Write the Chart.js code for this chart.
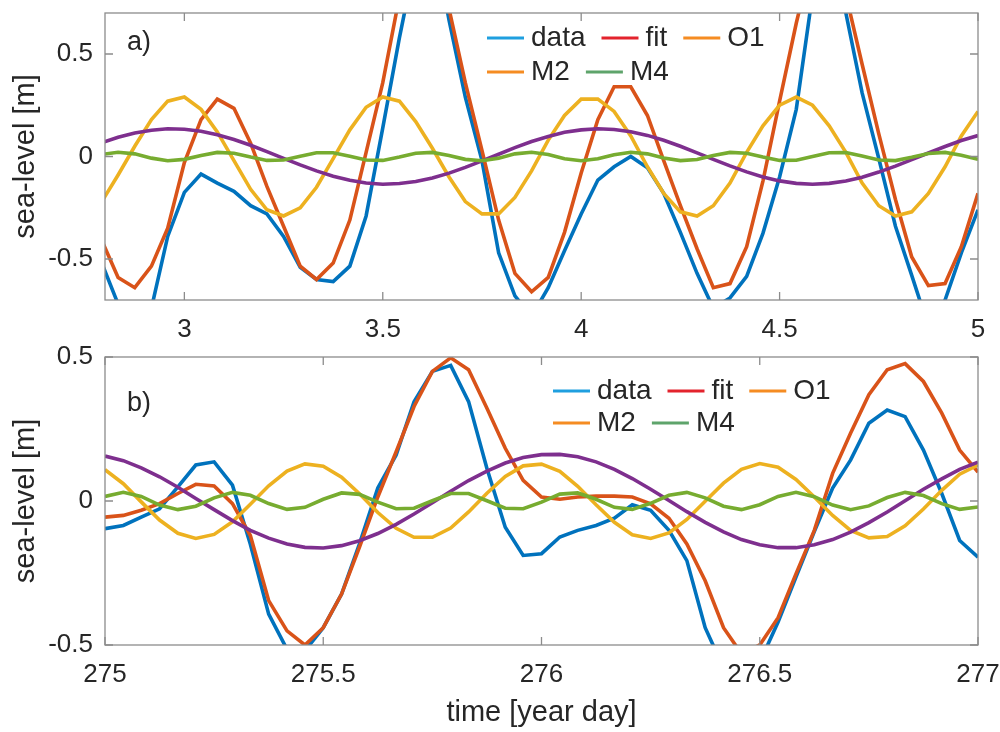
<!DOCTYPE html>
<html>
<head>
<meta charset="utf-8">
<script src="https://cdn.jsdelivr.net/npm/chart.js@4.4.1/dist/chart.umd.min.js"></script>
<style>
  html, body { margin: 0; padding: 0; background: #fff; }
  #boxA { position: absolute; left: 0; top: 0; }
  #boxB { position: absolute; left: 0; top: 345px; }
</style>
</head>
<body>
<div id="boxA"><canvas id="chartA" width="1000" height="345"></canvas></div>
<div id="boxB"><canvas id="chartB" width="1000" height="387"></canvas></div>
<script>
// hourly samples, panel a (days 2.8 - 5)
const timeA = [2.792, 2.833, 2.875, 2.917, 2.958, 3.000, 3.042, 3.083, 3.125, 3.167,
  3.208, 3.250, 3.292, 3.333, 3.375, 3.417, 3.458, 3.500, 3.542, 3.583,
  3.625, 3.667, 3.708, 3.750, 3.792, 3.833, 3.875, 3.917, 3.958, 4.000,
  4.042, 4.083, 4.125, 4.167, 4.208, 4.250, 4.292, 4.333, 4.375, 4.417,
  4.458, 4.500, 4.542, 4.583, 4.625, 4.667, 4.708, 4.750, 4.792, 4.833,
  4.875, 4.917, 4.958, 5.000];
const dataA = [-0.52, -0.72, -0.82, -0.74, -0.39, -0.175, -0.086, -0.13, -0.17, -0.24,
  -0.28, -0.39, -0.54, -0.60, -0.61, -0.535, -0.29, 0.14, 0.58, 0.97,
  1.1, 0.665, 0.29, -0.02, -0.47, -0.68, -0.78, -0.64, -0.46, -0.28,
  -0.115, -0.05, 0.0, -0.055, -0.18, -0.37, -0.57, -0.74, -0.69, -0.585,
  -0.375, -0.10, 0.23, 0.79, 1.0, 0.70, 0.31, -0.01, -0.34, -0.58,
  -0.83, -0.70, -0.47, -0.26];
const fitA = [-0.41, -0.59, -0.64, -0.535, -0.35, -0.03, 0.18, 0.28, 0.235, 0.065,
  -0.146, -0.34, -0.535, -0.60, -0.52, -0.31, 0.02, 0.36, 0.78, 1.05,
  1.08, 0.72, 0.36, 0.03, -0.31, -0.57, -0.66, -0.59, -0.37, -0.08,
  0.18, 0.34, 0.34, 0.20, -0.02, -0.24, -0.45, -0.64, -0.62, -0.44,
  -0.12, 0.27, 0.65, 0.98, 1.05, 0.79, 0.45, 0.11, -0.21, -0.49,
  -0.63, -0.62, -0.44, -0.18];
const o1A = [-0.22, -0.09, 0.05, 0.18, 0.27, 0.29, 0.23, 0.12, -0.02, -0.16,
  -0.26, -0.29, -0.25, -0.15, -0.01, 0.13, 0.24, 0.29, 0.27, 0.17,
  0.04, -0.10, -0.22, -0.28, -0.28, -0.20, -0.07, 0.08, 0.20, 0.28,
  0.28, 0.22, 0.10, -0.05, -0.18, -0.27, -0.29, -0.24, -0.13, 0.02,
  0.15, 0.25, 0.29, 0.25, 0.15, 0.02, -0.13, -0.24, -0.29, -0.27,
  -0.18, -0.05, 0.10, 0.22];
const m2A = [0.068, 0.094, 0.115, 0.128, 0.135, 0.133, 0.123, 0.106, 0.083, 0.055,
  0.024, -0.009, -0.041, -0.070, -0.096, -0.116, -0.129, -0.135, -0.132, -0.122,
  -0.105, -0.081, -0.053, -0.021, 0.011, 0.043, 0.073, 0.098, 0.118, 0.130,
  0.135, 0.132, 0.121, 0.103, 0.079, 0.050, 0.018, -0.014, -0.046, -0.075,
  -0.100, -0.119, -0.131, -0.135, -0.131, -0.120, -0.101, -0.076, -0.047, -0.015,
  0.017, 0.049, 0.078, 0.102];
const m4A = [0.010, 0.021, 0.013, -0.008, -0.021, -0.014, 0.005, 0.020, 0.016, -0.003,
  -0.019, -0.017, 0.001, 0.018, 0.018, 0.001, -0.017, -0.019, -0.003, 0.016,
  0.020, 0.005, -0.014, -0.021, -0.008, 0.013, 0.021, 0.010, -0.011, -0.021,
  -0.011, 0.009, 0.021, 0.013, -0.007, -0.020, -0.015, 0.005, 0.020, 0.016,
  -0.003, -0.019, -0.018, 0.000, 0.018, 0.019, 0.002, -0.017, -0.020, -0.004,
  0.015, 0.020, 0.006, -0.014];

// hourly samples, panel b (year day 275 - 277)
const timeB = [275.000, 275.042, 275.083, 275.125, 275.167, 275.208, 275.250, 275.292, 275.333, 275.375,
  275.417, 275.458, 275.500, 275.542, 275.583, 275.625, 275.667, 275.708, 275.750, 275.792,
  275.833, 275.875, 275.917, 275.958, 276.000, 276.042, 276.083, 276.125, 276.167, 276.208,
  276.250, 276.292, 276.333, 276.375, 276.417, 276.458, 276.500, 276.542, 276.583, 276.625,
  276.667, 276.708, 276.750, 276.792, 276.833, 276.875, 276.917, 276.958, 277.000];
const dataB = [-0.096, -0.085, -0.056, -0.027, 0.049, 0.125, 0.136, 0.055, -0.15, -0.393,
  -0.515, -0.52, -0.44, -0.323, -0.149, 0.045, 0.16, 0.345, 0.45, 0.471,
  0.345, 0.113, -0.091, -0.189, -0.183, -0.125, -0.102, -0.085, -0.06, -0.013,
  -0.032, -0.102, -0.207, -0.44, -0.58, -0.62, -0.56, -0.42, -0.264, -0.106,
  0.045, 0.142, 0.27, 0.316, 0.293, 0.177, 0.026, -0.137, -0.195];
const fitB = [-0.056, -0.05, -0.032, -0.009, 0.026, 0.058, 0.052, -0.009, -0.12, -0.346,
  -0.451, -0.50, -0.44, -0.323, -0.16, 0.014, 0.171, 0.328, 0.45, 0.497,
  0.456, 0.322, 0.183, 0.072, 0.014, 0.006, 0.014, 0.017, 0.017, 0.014,
  -0.01, -0.06, -0.149, -0.277, -0.44, -0.53, -0.50, -0.405, -0.253, -0.102,
  0.096, 0.235, 0.369, 0.456, 0.477, 0.415, 0.305, 0.177, 0.10];
const o1B = [0.109, 0.060, -0.003, -0.066, -0.112, -0.130, -0.116, -0.072, -0.011, 0.053,
  0.104, 0.129, 0.121, 0.083, 0.025, -0.040, -0.095, -0.126, -0.126, -0.094,
  -0.038, 0.027, 0.085, 0.122, 0.128, 0.103, 0.051, -0.013, -0.074, -0.117,
  -0.130, -0.111, -0.064, -0.001, 0.062, 0.110, 0.130, 0.117, 0.075, 0.014,
  -0.050, -0.102, -0.128, -0.123, -0.086, -0.028, 0.037, 0.093, 0.125];
const m2B = [0.156, 0.140, 0.115, 0.084, 0.048, 0.009, -0.030, -0.068, -0.102, -0.129,
  -0.149, -0.161, -0.163, -0.155, -0.138, -0.113, -0.081, -0.045, -0.006, 0.034,
  0.071, 0.104, 0.132, 0.151, 0.161, 0.162, 0.154, 0.136, 0.110, 0.078,
  0.041, 0.002, -0.037, -0.074, -0.107, -0.134, -0.152, -0.162, -0.162, -0.152,
  -0.134, -0.108, -0.075, -0.038, 0.001, 0.041, 0.077, 0.110, 0.135];
const m4B = [0.016, 0.030, 0.016, -0.014, -0.030, -0.018, 0.011, 0.030, 0.020, -0.009,
  -0.029, -0.022, 0.006, 0.028, 0.023, -0.004, -0.027, -0.025, 0.001, 0.026,
  0.026, 0.001, -0.025, -0.027, -0.004, 0.024, 0.028, 0.006, -0.022, -0.029,
  -0.008, 0.020, 0.030, 0.011, -0.018, -0.030, -0.013, 0.016, 0.030, 0.015,
  -0.014, -0.030, -0.017, 0.012, 0.030, 0.019, -0.009, -0.029, -0.021];

const xTicksA = [3, 3.5, 4, 4.5, 5];
const xTicksB = [275, 275.5, 276, 276.5, 277];
const yTicks = [-0.5, 0, 0.5];

const seriesLabels = ['data', 'fit', 'O1', 'M2', 'M4'];
const lineColors = ['#0072BD', '#D95319', '#EDB120', '#7E2F8E', '#77AC30'];
const legendColors = ['#1f9fdf', '#e3232d', '#f58c22', '#f58c22', '#5ea46b'];

const FONT = '"Liberation Sans", Arial, Helvetica, sans-serif';
const TEXT = '#262626';
const AXIS = '#8c8c8c';
Chart.defaults.font.family = FONT;
Chart.defaults.color = TEXT;

// box, inward ticks, panel tag and the legend
const framePlugin = {
  id: 'frame',
  afterDatasetsDraw(chart, args, opts) {
    const ctx = chart.ctx, a = chart.chartArea;
    const x = chart.scales.x, y = chart.scales.y;
    ctx.save();
    ctx.strokeStyle = AXIS;
    ctx.lineWidth = 1.3;
    ctx.strokeRect(a.left, a.top, a.right - a.left, a.bottom - a.top);
    ctx.beginPath();
    x.ticks.forEach(t => {
      const p = x.getPixelForValue(t.value);
      ctx.moveTo(p, a.bottom); ctx.lineTo(p, a.bottom - 8);
      ctx.moveTo(p, a.top); ctx.lineTo(p, a.top + 8);
    });
    y.ticks.forEach(t => {
      const p = y.getPixelForValue(t.value);
      ctx.moveTo(a.left, p); ctx.lineTo(a.left + 8, p);
      ctx.moveTo(a.right, p); ctx.lineTo(a.right - 8, p);
    });
    ctx.stroke();

    ctx.fillStyle = TEXT;
    ctx.font = '27px ' + FONT;
    ctx.textBaseline = 'middle';
    ctx.textAlign = 'left';
    ctx.fillText(opts.tag, a.left + 22, a.top + opts.tagDy);

    ctx.font = '28px ' + FONT;
    const rows = [[0, 1, 2], [3, 4]];
    rows.forEach((row, r) => {
      let lx = opts.legendX;
      const ly = a.top + opts.legendDy[r];
      row.forEach(i => {
        ctx.strokeStyle = legendColors[i];
        ctx.lineWidth = 3;
        ctx.beginPath();
        ctx.moveTo(lx, ly); ctx.lineTo(lx + 37, ly);
        ctx.stroke();
        ctx.fillStyle = TEXT;
        ctx.fillText(seriesLabels[i], lx + 44, ly);
        lx += 44 + ctx.measureText(seriesLabels[i]).width + 16;
      });
    });
    ctx.restore();
  }
};

function lineSet(i, times, values) {
  return {
    label: seriesLabels[i],
    data: times.map((t, k) => ({ x: t, y: values[k] })),
    borderColor: lineColors[i],
    borderWidth: 3.6,
    pointRadius: 0,
    tension: 0,
    fill: false,
    clip: 0,
    order: 5 - i
  };
}

function makePanel(id, times, series, xr, yr, xTicks, xHeight, padTop, showXTitle, frame) {
  const config = {
    type: 'line',
    data: { datasets: series.map((v, i) => lineSet(i, times, v)) },
    options: {
      responsive: false,
      animation: false,
      layout: { padding: { top: padTop, right: 22, left: 0, bottom: 0 } },
      plugins: { legend: { display: false }, tooltip: { enabled: false }, frame: frame },
      scales: {
        x: {
          type: 'linear', min: xr[0], max: xr[1],
          afterBuildTicks: s => { s.ticks = xTicks.map(v => ({ value: v })); },
          afterFit: s => { s.height = xHeight; s.paddingLeft = 0; s.paddingRight = 0; },
          grid: { display: false, drawTicks: false },
          border: { display: false },
          ticks: { font: { size: 26 }, color: TEXT, padding: 14, maxRotation: 0, autoSkip: false,
                   callback: v => String(v) },
          title: { display: showXTitle, text: 'time [year day]', font: { size: 29 }, color: TEXT,
                   padding: { top: 0, bottom: 2 } }
        },
        y: {
          min: yr[0], max: yr[1],
          afterBuildTicks: s => { s.ticks = yTicks.map(v => ({ value: v })); },
          afterFit: s => { s.width = 105; s.paddingTop = 0; s.paddingBottom = 0; },
          grid: { display: false, drawTicks: false },
          border: { display: false },
          ticks: { font: { size: 26 }, color: TEXT, padding: 12, callback: v => String(v) },
          title: { display: true, text: 'sea-level [m]', font: { size: 29 }, color: TEXT,
                   padding: { top: 9, bottom: 0 } }
        }
      }
    },
    plugins: [framePlugin]
  };
  return new Chart(document.getElementById(id), config);
}

makePanel('chartA', timeA, [dataA, fitA, o1A, m2A, m4A], [2.8, 5], [-0.7, 0.7], xTicksA, 45, 13, false,
  { tag: 'a)', tagDy: 30, legendX: 487, legendDy: [25, 59] });
makePanel('chartB', timeB, [dataB, fitB, o1B, m2B, m4B], [275, 277], [-0.5, 0.5], xTicksB, 87, 12, true,
  { tag: 'b)', tagDy: 47, legendX: 553, legendDy: [34, 66] });
</script>
</body>
</html>
